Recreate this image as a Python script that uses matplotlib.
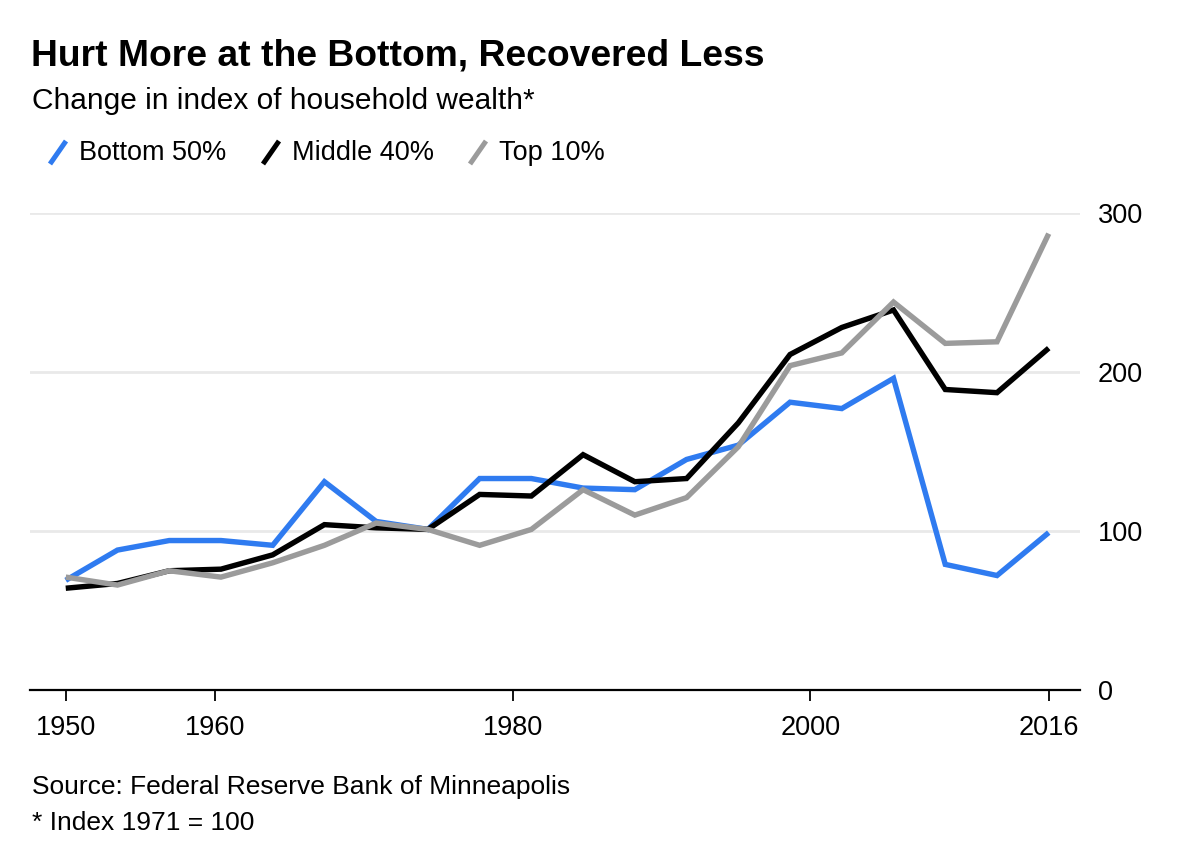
import numpy as np
import matplotlib
matplotlib.use('Agg')
import matplotlib.pyplot as plt
from matplotlib.lines import Line2D

plt.rcParams['font.family'] = ['Liberation Sans', 'DejaVu Sans']

# survey years (drawn evenly spaced across 1950-2016, as in the original)
years = [1950, 1953, 1956, 1959, 1962, 1965, 1968, 1971, 1977, 1983,
         1989, 1992, 1995, 1998, 2001, 2004, 2007, 2010, 2013, 2016]
bottom50 = [69, 88, 94, 94, 91, 131, 106, 101, 133, 133,
            127, 126, 145, 154, 181, 177, 196, 79, 72, 99]
middle40 = [64, 67, 75, 76, 85, 104, 102, 101, 123, 122,
            148, 131, 133, 168, 211, 228, 239, 189, 187, 215]
top10 = [71, 66, 75, 71, 80, 91, 105, 101, 91, 101,
         126, 110, 121, 153, 204, 212, 244, 218, 219, 287]

series_names = ['Bottom 50%', 'Middle 40%', 'Top 10%']
series_colors = ['#2f7bf0', '#000000', '#9b9b9b']
x_ticks = [1950, 1960, 1980, 2000, 2016]
y_ticks = [0, 100, 200, 300]

W, H = 1200, 858
fig = plt.figure(figsize=(W / 100, H / 100), dpi=100)
ax = fig.add_axes([30 / W, (H - 690) / H, 1050 / W, (690 - 213) / H])

xpos = np.linspace(years[0], years[-1], len(years))
for vals, col in zip([bottom50, middle40, top10], series_colors):
    ax.plot(xpos, vals, color=col, lw=3.9, solid_joinstyle='miter',
            solid_capstyle='butt', clip_on=False, zorder=3)

ax.set_xlim(1947.6, 2018.1)
ax.set_ylim(0, 300)
for s in ['top', 'left', 'right']:
    ax.spines[s].set_visible(False)
ax.spines['bottom'].set_linewidth(1.6)
ax.spines['bottom'].set_zorder(4)

ax.set_yticks(y_ticks)
ax.yaxis.tick_right()
ax.tick_params(axis='y', length=0, pad=13, labelsize=19.5)
for yv in y_ticks[1:]:
    ax.axhline(yv, color='#e9e9e9', lw=2, zorder=1)

ax.set_xticks(x_ticks)
ax.set_xticklabels([str(t) for t in x_ticks])
ax.tick_params(axis='x', length=8, width=1.3, direction='out', pad=10,
               labelsize=19.5)

# title block
fig.text(31 / W, 1 - 56 / H, 'Hurt More at the Bottom, Recovered Less',
         fontsize=26.8, fontweight='bold', va='center', ha='left')
fig.text(32 / W, 1 - 101 / H, 'Change in index of household wealth*',
         fontsize=21.5, va='center', ha='left')

# legend with slanted strokes
lx = [50, 263, 470]
for x0, name, col in zip(lx, series_names, series_colors):
    fig.add_artist(Line2D([x0 / W, (x0 + 16) / W], [1 - 164 / H, 1 - 141 / H],
                          transform=fig.transFigure, color=col, lw=3.6,
                          solid_capstyle='butt'))
    fig.text((x0 + 29) / W, 1 - 153 / H, name, fontsize=19.5, va='center',
             ha='left')

fig.text(32 / W, 1 - 787 / H, 'Source: Federal Reserve Bank of Minneapolis',
         fontsize=19, va='center', ha='left')
fig.text(32 / W, 1 - 823 / H, '* Index 1971 = 100', fontsize=19,
         va='center', ha='left')

fig.savefig('out.png', dpi=100)
